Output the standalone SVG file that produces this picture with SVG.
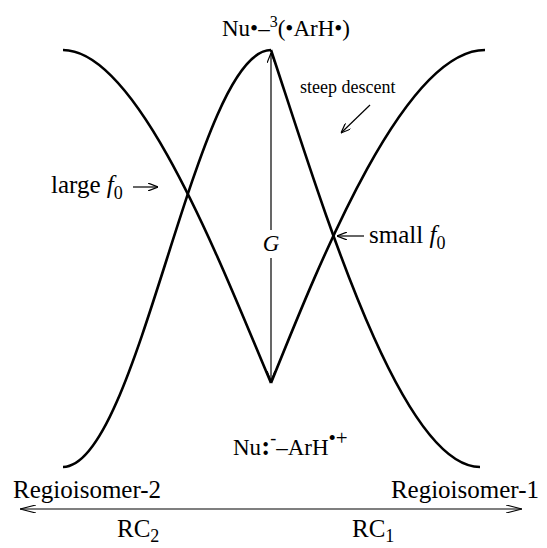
<svg xmlns="http://www.w3.org/2000/svg" width="547" height="548" viewBox="0 0 547 548">
<style>
text{font-family:"Liberation Serif","Times New Roman",serif;fill:#000}
.lbl{font-size:23px}
.big{font-size:25px}
.sm{font-size:18px}
.curve{fill:none;stroke:#000;stroke-width:2.6;stroke-linejoin:miter}
.thin{fill:none;stroke:#000;stroke-width:1.2}
</style>
<defs>
<marker id="ah" viewBox="0 0 10 8" refX="10" refY="4" markerWidth="10" markerHeight="8" markerUnits="userSpaceOnUse" orient="auto-start-reverse">
<path d="M0,0 L10,4 L0,8" fill="none" stroke="#000" stroke-width="1.2"/>
</marker>
<marker id="ahl" viewBox="0 0 16 8" refX="16" refY="4" markerWidth="16" markerHeight="8" markerUnits="userSpaceOnUse" orient="auto-start-reverse">
<path d="M0,0 L16,4 L0,8" fill="none" stroke="#000" stroke-width="1.2"/>
</marker>
</defs>
<rect width="547" height="548" fill="#fff"/>
<g id="curves">
<path class="curve" d="M63,467 C138.6,467 195.4,50 271,50"/>
<path class="curve" d="M63,50 C140,50 225,275 271,383"/>
<path class="curve" d="M271,50 C321,201 400,467 480,467"/>
<path class="curve" d="M485,50 C405,50 322,256 271,383"/>
</g>
<g id="connectors">
<line class="thin" x1="271" y1="230" x2="271" y2="53" marker-end="url(#ah)"/>
<line class="thin" x1="271" y1="258" x2="271" y2="381" marker-end="url(#ah)"/>
<line class="thin" x1="370" y1="105" x2="341" y2="133" marker-end="url(#ah)"/>
<line class="thin" x1="133" y1="187" x2="158" y2="187" marker-end="url(#ah)"/>
<line class="thin" x1="364" y1="236" x2="337" y2="236" marker-end="url(#ah)"/>
<line class="thin" x1="20" y1="509" x2="522" y2="509" marker-start="url(#ahl)" marker-end="url(#ahl)"/>
</g>
<g id="label-top">
<text class="lbl" x="222" y="36">Nu•–<tspan font-size="16" dy="-9">3</tspan><tspan dy="9">(•ArH•)</tspan></text>
</g>
<g id="label-steep">
<text class="sm" x="300" y="93">steep descent</text>
</g>
<g id="label-large">
<text class="big" x="51" y="193">large <tspan font-style="italic">f</tspan><tspan font-size="18" dy="6">0</tspan></text>
</g>
<g id="label-small">
<text class="big" x="369" y="243">small <tspan font-style="italic">f</tspan><tspan font-size="18" dy="6">0</tspan></text>
</g>
<g id="label-G">
<text class="lbl" x="271" y="251" text-anchor="middle" font-style="italic">G</text>
</g>
<g id="label-bottom">
<text class="lbl" x="233" y="455">Nu<tspan font-weight="bold" font-size="27">:</tspan><tspan font-size="18" dy="-11">-</tspan><tspan dy="11">–ArH</tspan><tspan font-size="21" dy="-10">•+</tspan></text>
</g>
<g id="label-regio2">
<text class="big" x="13" y="498">Regioisomer-2</text>
</g>
<g id="label-regio1">
<text class="big" x="539" y="498" text-anchor="end">Regioisomer-1</text>
</g>
<g id="label-rc2">
<text class="big" x="117" y="537">RC<tspan font-size="18" dy="5">2</tspan></text>
</g>
<g id="label-rc1">
<text class="big" x="352" y="537">RC<tspan font-size="18" dy="5">1</tspan></text>
</g>
</svg>
